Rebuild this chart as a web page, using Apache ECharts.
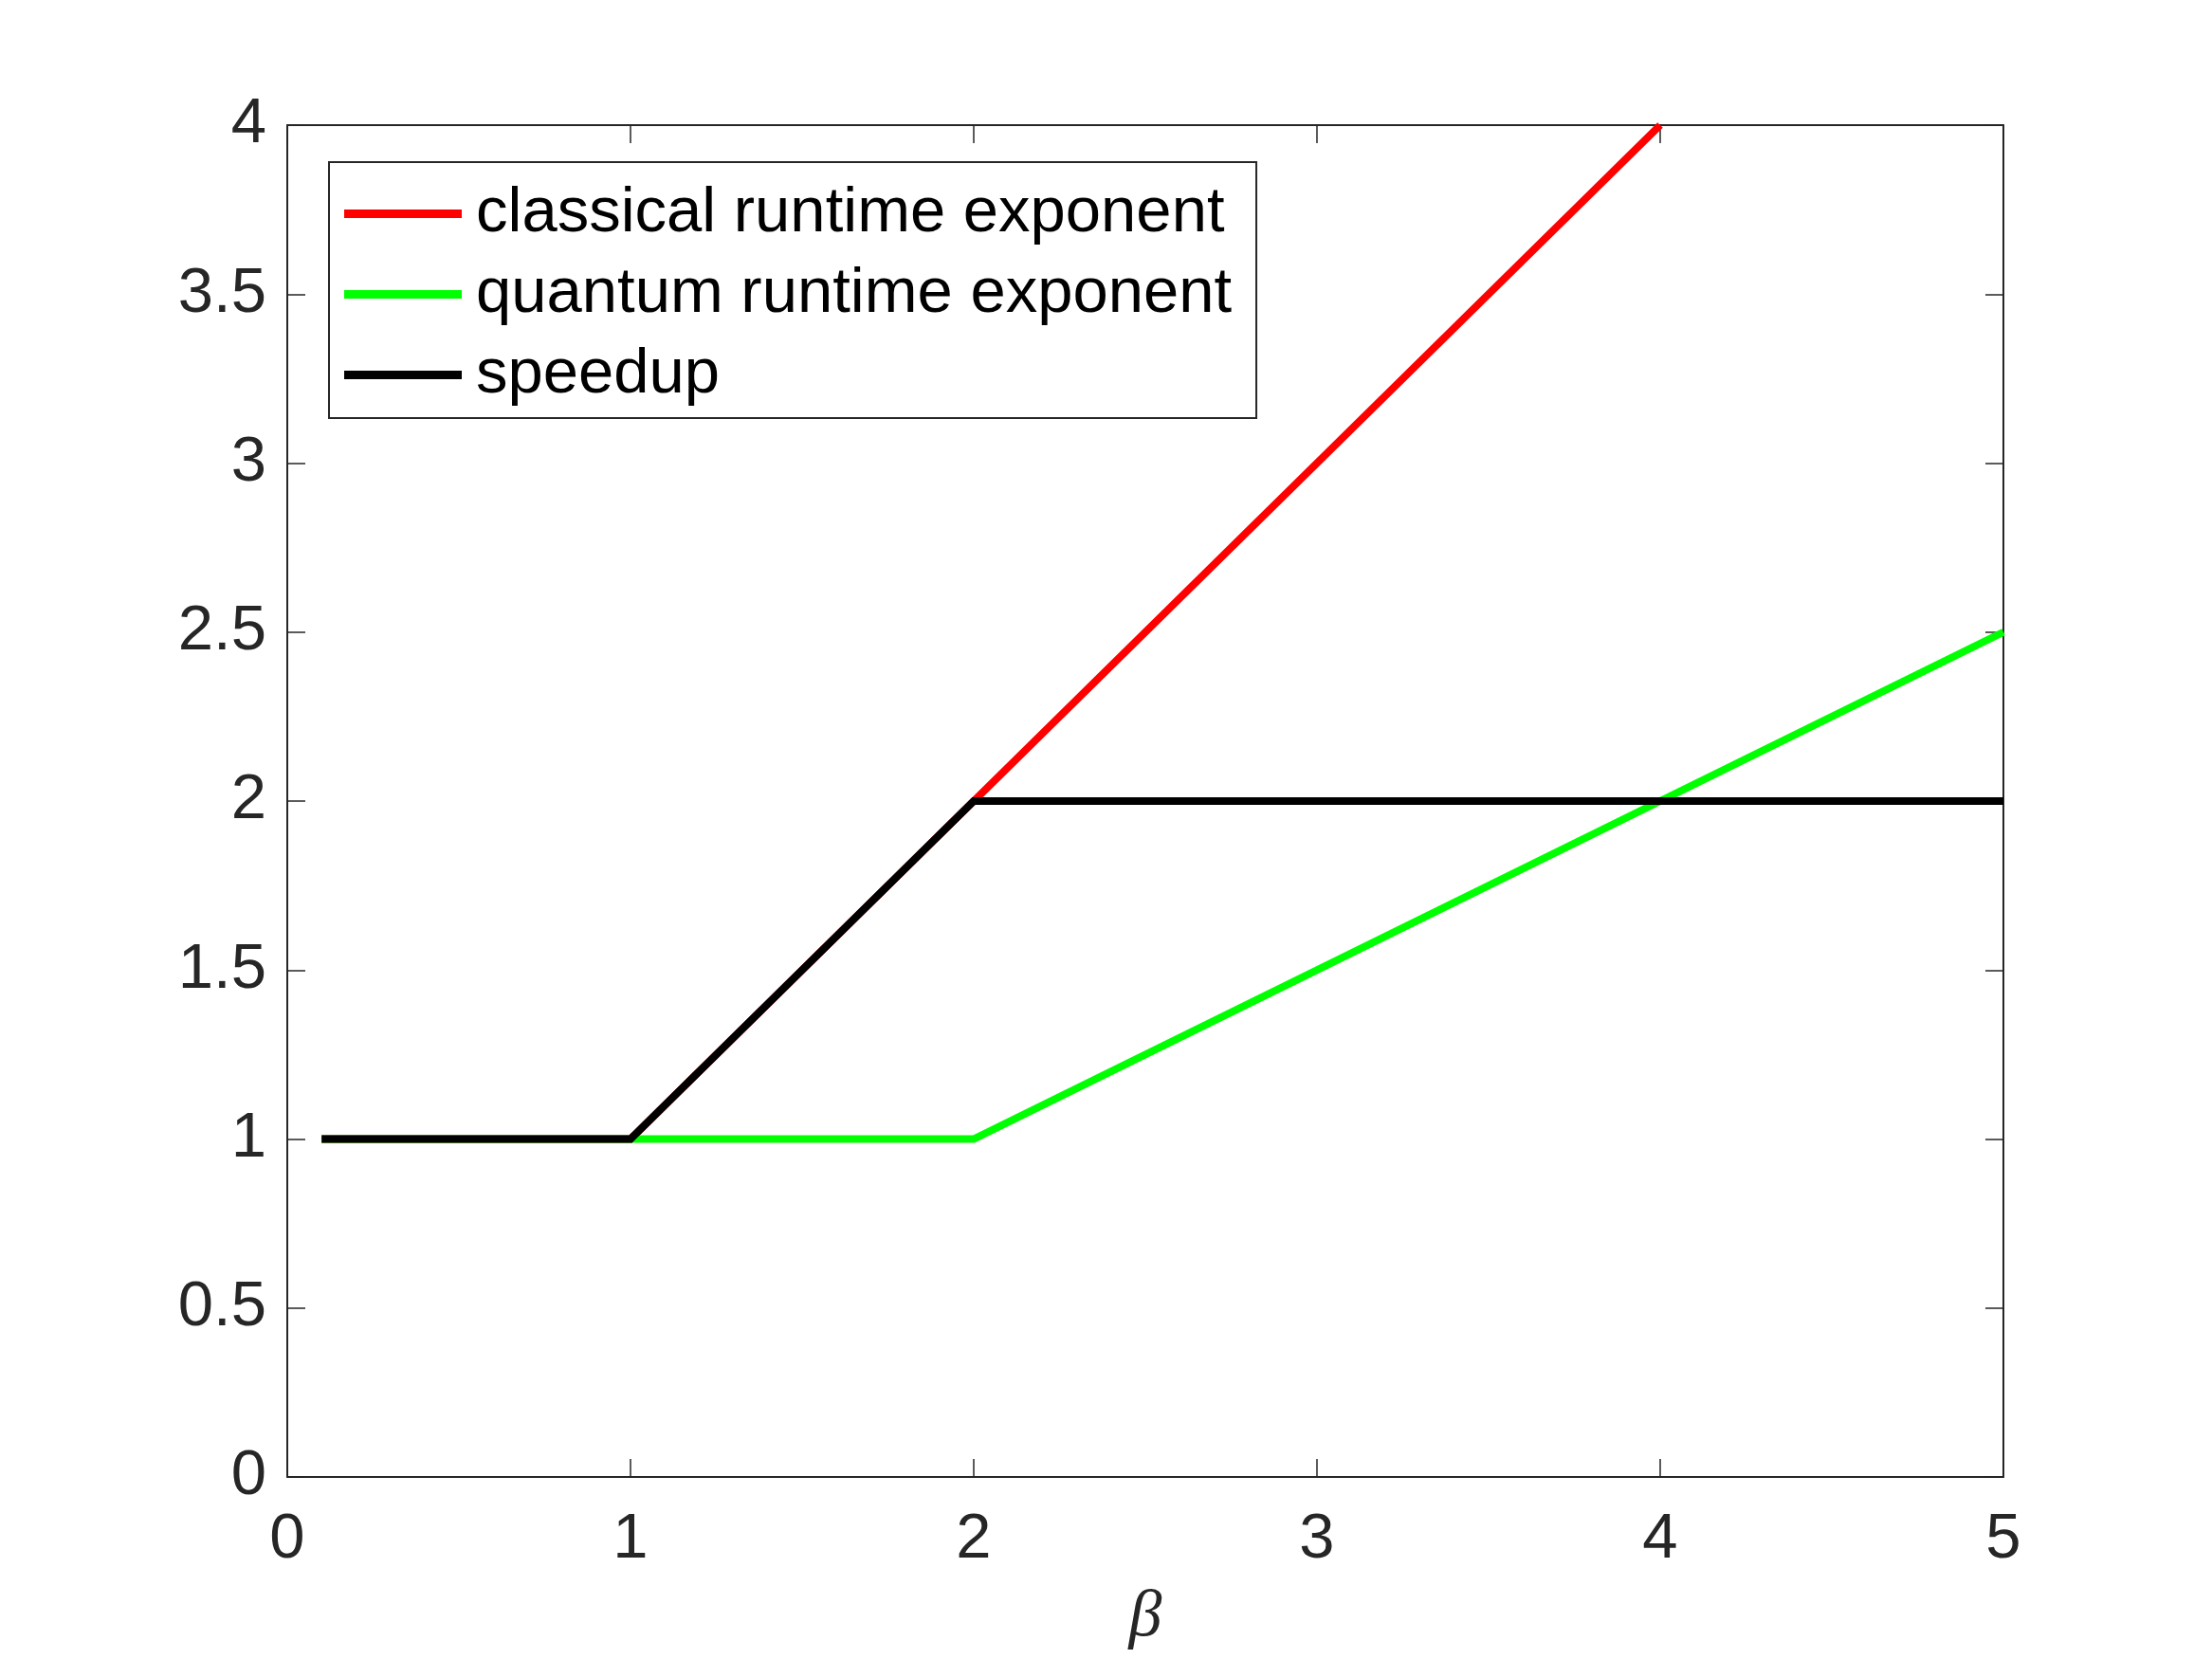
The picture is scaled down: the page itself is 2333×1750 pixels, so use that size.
<!DOCTYPE html>
<html>
<head>
<meta charset="utf-8">
<script src="https://cdn.jsdelivr.net/npm/echarts@6/dist/echarts.min.js"></script>
<style>html,body{margin:0;padding:0;background:#fff}#c{width:2333px;height:1750px}</style>
</head>
<body>
<div id="c"></div>
<script>
// Data
const seriesNames = ['classical runtime exponent', 'quantum runtime exponent', 'speedup'];
const betaClassical = [0.1, 1, 4];
const classical = [1, 1, 4];
const betaQuantum = [0.1, 2, 5];
const quantum = [1, 1, 2.5];
const betaSpeedup = [0.1, 1, 2, 5];
const speedup = [1, 1, 2, 2];
const xTicks = [0, 1, 2, 3, 4, 5];
const yTicks = [0, 0.5, 1, 1.5, 2, 2.5, 3, 3.5, 4];

const pairs = (xs, ys) => xs.map((x, i) => [x, ys[i]]);
const axisColor = '#262626';
const font = 'Liberation Sans, Helvetica, Arial, sans-serif';

const chart = echarts.init(document.getElementById('c'), null, {renderer: 'canvas'});

const baseX = {
  type: 'value', min: xTicks[0], max: xTicks[xTicks.length - 1], interval: 1,
  axisLine: {show: true, onZero: false, lineStyle: {color: axisColor, width: 2}},
  axisTick: {show: true, inside: true, length: 19, lineStyle: {color: axisColor, width: 1.5}},
  splitLine: {show: false}
};
const baseY = {
  type: 'value', min: yTicks[0], max: yTicks[yTicks.length - 1], interval: 0.5,
  axisLine: {show: true, onZero: false, lineStyle: {color: axisColor, width: 2}},
  axisTick: {show: true, inside: true, length: 19, lineStyle: {color: axisColor, width: 1.5}},
  splitLine: {show: false}
};

const mkSeries = (name, data, color) => ({
  name, type: 'line', data, xAxisIndex: 0, yAxisIndex: 0,
  symbol: 'none', showSymbol: false, animation: false,
  lineStyle: {color, width: 8, cap: 'butt', join: 'miter'},
  itemStyle: {color}
});

chart.setOption({
  animation: false,
  backgroundColor: '#ffffff',
  grid: {left: 303, top: 132, right: 220, bottom: 192, containLabel: false},
  xAxis: [
    Object.assign({}, baseX, {
      position: 'bottom',
      axisLabel: {show: true, margin: 33, fontSize: 67, color: axisColor, fontFamily: font},
      name: 'β', nameLocation: 'middle', nameGap: 114,
      nameTextStyle: {fontSize: 70, fontStyle: 'italic', fontFamily: 'Liberation Serif, DejaVu Serif, serif', color: axisColor}
    }),
    Object.assign({}, baseX, {position: 'top', axisLabel: {show: false}})
  ],
  yAxis: [
    Object.assign({}, baseY, {
      position: 'left',
      axisLabel: {show: true, margin: 22, fontSize: 67, color: axisColor, fontFamily: font}
    }),
    Object.assign({}, baseY, {position: 'right', axisLabel: {show: false}})
  ],
  legend: {
    show: true, orient: 'vertical', left: 347, top: 171,
    data: seriesNames.map(n => ({name: n, icon: 'rect'})),
    itemWidth: 124, itemHeight: 9, itemGap: 18,
    padding: [21, 26, 12, 16],
    borderColor: axisColor, borderWidth: 2, backgroundColor: '#ffffff',
    textStyle: {fontSize: 67, color: '#000', fontFamily: font, padding: [0, 0, 0, 10]},
    selectedMode: false
  },
  series: [
    mkSeries(seriesNames[0], pairs(betaClassical, classical), '#ff0000'),
    mkSeries(seriesNames[1], pairs(betaQuantum, quantum), '#00ff00'),
    mkSeries(seriesNames[2], pairs(betaSpeedup, speedup), '#000000')
  ]
});
</script>
</body>
</html>
